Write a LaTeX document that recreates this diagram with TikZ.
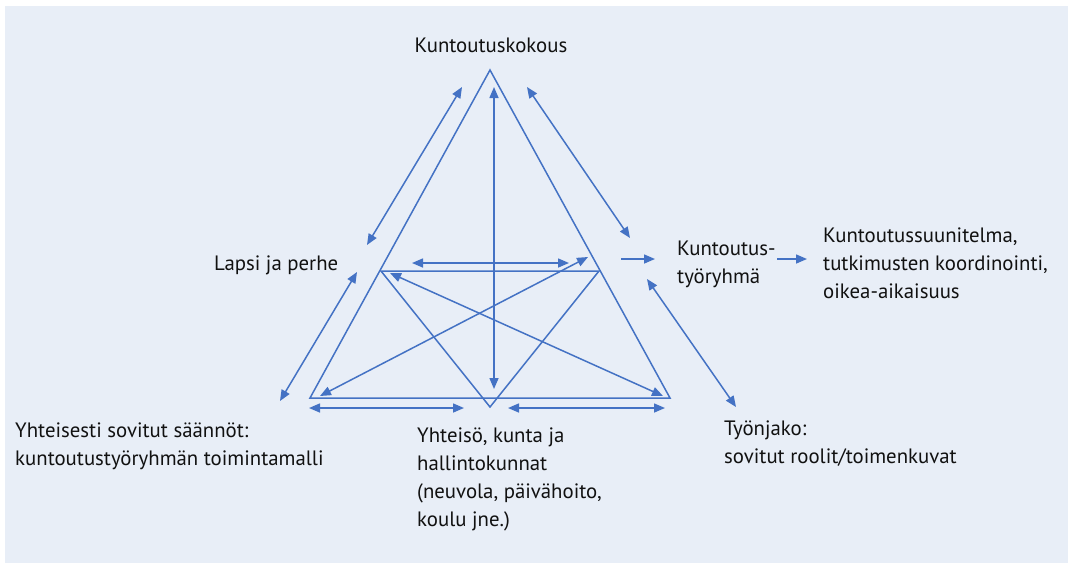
\documentclass[tikz,border=0pt]{standalone}
\usepackage{fontspec}
\setmainfont{PT Sans}
\usetikzlibrary{arrows.meta}
\definecolor{cLine}{HTML}{4472C4}
\definecolor{cInk}{HTML}{111111}
\definecolor{cPaper}{HTML}{E8EEF7}
\tikzset{
  >={Triangle[length=11pt,width=9pt]},
  ln/.style  ={cLine,line width=1.5pt},
  ar/.style  ={ln,->},
  arr/.style ={ln,<->},
  lbl/.style ={font=\fontsize{20.8}{28}\selectfont,text=cInk,
               align=left,inner sep=0pt,anchor=base west},
}
\begin{document}
\begin{tikzpicture}[x=1pt,y=-1pt]
\useasboundingbox (0,0) rectangle (1068,563);
\fill[cPaper] (5,6) rectangle (1068,563);
% triangle corners
\coordinate (T)  at (490,70);
\coordinate (BL) at (310,398);
\coordinate (BR) at (670,398);
\coordinate (IL) at (381,271);
\coordinate (IR) at (599,271);
\coordinate (IB) at (490,407);
\draw[ln] (T) -- (BL) -- (BR) -- cycle;
\draw[ln] (IL) -- (IR) -- (IB) -- cycle;
% arrow ends
\foreach \n/\p in {va/{494,87},vb/{494,389},ha/{412,263},hb/{569,263},
                   da/{320,396},db/{588,257},ea/{390,273},eb/{663,396},
                   la/{309,408},lb/{464,408},ra/{508,408},rb/{665,408},
                   pa/{367,245},pb/{462,87},qa/{280,401},qb/{357,272},
                   sa/{630,238},sb/{527,87},ta/{647,279},tb/{736,407},
                   ka/{621,259},kb/{655,259},ma/{777,259},mb/{807,259}}
  \coordinate (\n) at (\p);
\foreach \a/\b in {va/vb,ha/hb,da/db,ea/eb,la/lb,ra/rb,pa/pb,qa/qb,sa/sb,ta/tb}
  \draw[arr] (\a) -- (\b);
\draw[ar] (ka) -- (kb);
\draw[ar] (ma) -- (mb);
% labels (base = last line)
\node[lbl,anchor=base] (kk) at (491,52) {Kuntoutuskokous};
\node[lbl] (lp) at (214,270) {Lapsi ja perhe};
\node[lbl] (kt) at (677,283) {Kuntoutus-\\työryhmä};
\node[lbl] (ks) at (823,298) {Kuntoutussuunitelma,\\tutkimusten koordinointi,\\oikea-aikaisuus};
\node[lbl] (ys) at (15,465) {Yhteisesti sovitut säännöt:\\kuntoutustyöryhmän toimintamalli};
\node[lbl] (yk) at (417,526) {Yhteisö, kunta ja\\hallintokunnat\\(neuvola, päivähoito,\\koulu jne.)};
\node[lbl] (tj) at (724,463) {Työnjako:\\sovitut roolit/toimenkuvat};
\end{tikzpicture}
\end{document}
